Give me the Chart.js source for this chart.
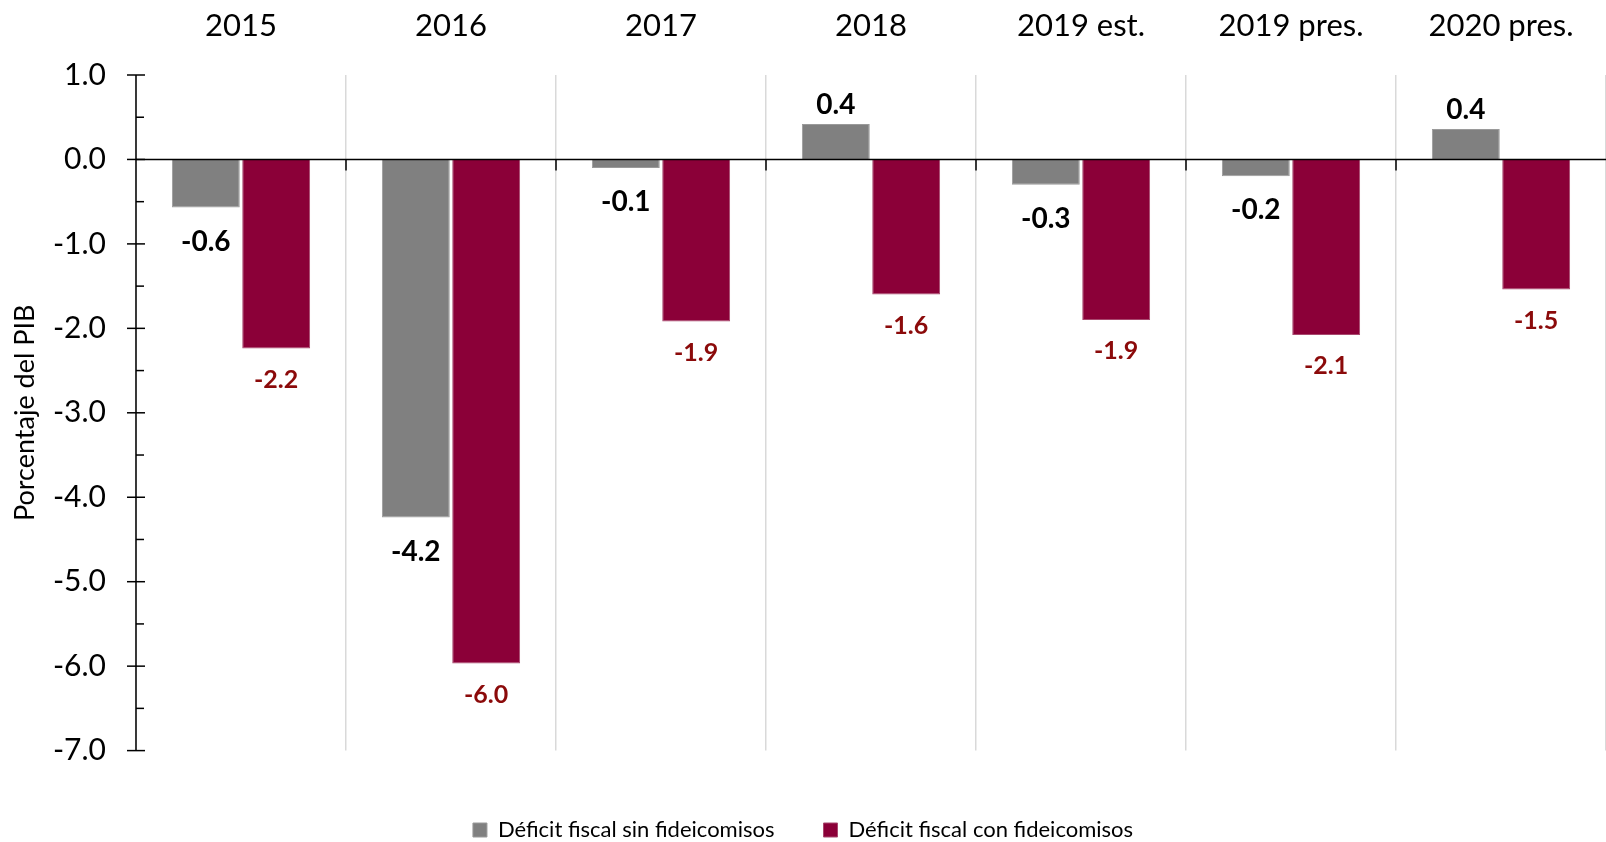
<!DOCTYPE html>
<html>
<head>
<meta charset="utf-8">
<script src="https://cdn.jsdelivr.net/npm/chart.js@4"></script>
<style>
  html, body { margin: 0; padding: 0; background: #fff; }
  #wrap { width: 1606px; height: 842px; }
</style>
</head>
<body>
<div id="wrap"><canvas id="deficitChart" width="1606" height="842"></canvas></div>
<script>
const categories = ["2015", "2016", "2017", "2018", "2019 est.", "2019 pres.", "2020 pres."];
const sinFideicomisos = [-0.57, -4.24, -0.1, 0.42, -0.3, -0.2, 0.36];
const conFideicomisos = [-2.24, -5.97, -1.92, -1.6, -1.9, -2.08, -1.54];
const sinLabels = ["-0.6", "-4.2", "-0.1", "0.4", "-0.3", "-0.2", "0.4"];
const conLabels = ["-2.2", "-6.0", "-1.9", "-1.6", "-1.9", "-2.1", "-1.5"];
const yMin = -7;
const yMax = 1;

const FONT = "Lato, 'Open Sans', sans-serif";

// axis line, ticks, zero line and bar labels drawn on top of the bars
const axisPlugin = {
  id: "axisPlugin",
  afterDatasetsDraw(chart) {
    const ctx = chart.ctx;
    const area = chart.chartArea;
    const y = chart.scales.y;
    const x = chart.scales.x;
    const axisX = area.left;
    ctx.save();
    ctx.strokeStyle = "#000";
    ctx.lineWidth = 1.5;

    // zero line
    const zeroY = y.getPixelForValue(0);
    ctx.beginPath();
    ctx.moveTo(axisX, zeroY);
    ctx.lineTo(area.right, zeroY);
    ctx.stroke();

    // small marks under zero line at category boundaries
    for (let i = 1; i < categories.length; i++) {
      const bx = (x.getPixelForValue(i - 1) + x.getPixelForValue(i)) / 2;
      ctx.beginPath();
      ctx.moveTo(bx, zeroY);
      ctx.lineTo(bx, zeroY + 11);
      ctx.stroke();
    }

    // y axis
    ctx.beginPath();
    ctx.moveTo(axisX, area.top);
    ctx.lineTo(axisX, area.bottom);
    ctx.stroke();
    for (let v = yMin; v <= yMax; v++) {
      const py = y.getPixelForValue(v);
      ctx.beginPath();
      ctx.moveTo(axisX - 9, py);
      ctx.lineTo(axisX + 9, py);
      ctx.stroke();
      if (v < yMax) {
        const my = y.getPixelForValue(v + 0.5);
        ctx.beginPath();
        ctx.moveTo(axisX, my);
        ctx.lineTo(axisX + 8, my);
        ctx.stroke();
      }
    }

    // bar labels
    ctx.textAlign = "center";
    ctx.textBaseline = "middle";
    const grayMeta = chart.getDatasetMeta(0);
    const redMeta = chart.getDatasetMeta(1);
    ctx.fillStyle = "#000";
    ctx.font = "bold 28px " + FONT;
    grayMeta.data.forEach((bar, i) => {
      const off = sinFideicomisos[i] >= 0 ? -19 : 34;
      ctx.fillText(sinLabels[i], bar.x, bar.y + off);
    });
    ctx.fillStyle = "#8b0a0a";
    ctx.font = "bold 25px " + FONT;
    redMeta.data.forEach((bar, i) => {
      ctx.fillText(conLabels[i], bar.x, bar.y + 31);
    });
    ctx.restore();
  }
};

const ctx = document.getElementById("deficitChart").getContext("2d");
new Chart(ctx, {
  type: "bar",
  data: {
    labels: categories,
    datasets: [
      {
        label: "Déficit fiscal sin fideicomisos",
        data: sinFideicomisos,
        backgroundColor: "#808080",
        borderColor: "#9a9a9a",
        borderWidth: 1,
        barPercentage: 0.965,
        categoryPercentage: 0.67
      },
      {
        label: "Déficit fiscal con fideicomisos",
        data: conFideicomisos,
        backgroundColor: "#8b0038",
        borderColor: "#a8486e",
        borderWidth: 1,
        barPercentage: 0.965,
        categoryPercentage: 0.67
      }
    ]
  },
  options: {
    responsive: false,
    animation: false,
    layout: { padding: { left: 0, right: 0, top: 0, bottom: -9 } },
    plugins: {
      legend: {
        position: "bottom",
        // empty title only pushes the legend row down
        title: { display: true, text: "", font: { size: 12 }, padding: { top: 5, bottom: 0 } },
        labels: {
          boxWidth: 14,
          boxHeight: 14,
          padding: 49,
          color: "#000",
          font: { family: FONT, size: 22 }
        }
      },
      tooltip: { enabled: false }
    },
    scales: {
      x: {
        position: "top",
        grid: { display: true, color: "#d9d9d9", lineWidth: 1.5, drawTicks: false },
        border: { display: false },
        ticks: {
          color: "#000",
          font: { family: FONT, size: 31 },
          padding: 30
        },
        afterFit(scale) { scale.height = 75; }
      },
      y: {
        min: yMin,
        max: yMax,
        grid: { display: false },
        border: { display: false },
        ticks: {
          stepSize: 1,
          color: "#000",
          padding: 22,
          font: { family: FONT, size: 30 },
          callback: (v) => Number(v).toFixed(1)
        },
        title: {
          display: true,
          text: "Porcentaje del PIB",
          color: "#000",
          font: { family: FONT, size: 27 },
          padding: { top: 9, bottom: 0 }
        },
        afterFit(scale) { scale.width = 136; }
      }
    }
  },
  plugins: [axisPlugin]
});
</script>
</body>
</html>
